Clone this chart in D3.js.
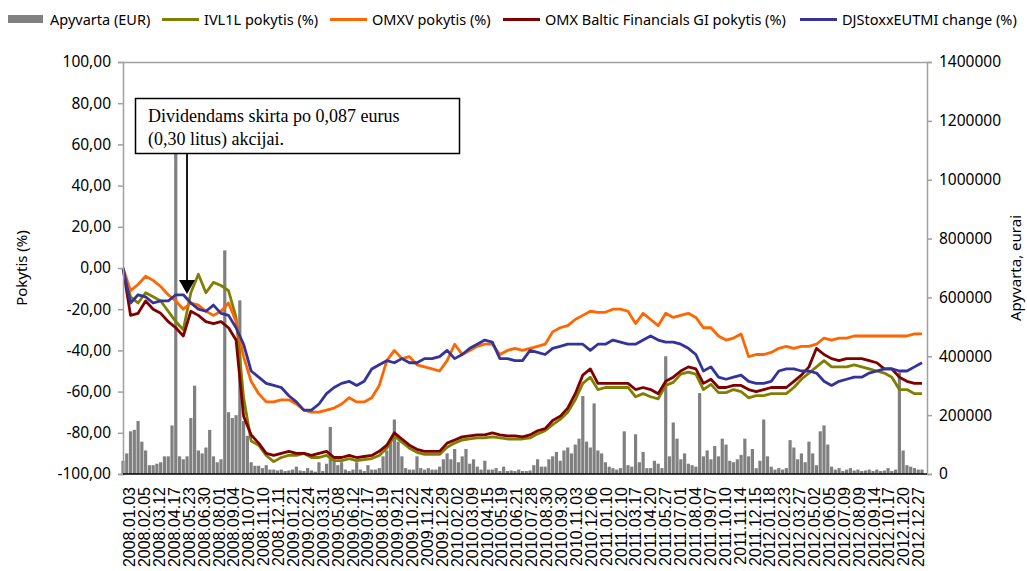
<!DOCTYPE html>
<html>
<head>
<meta charset="utf-8">
<script src="https://cdn.jsdelivr.net/npm/d3@7"></script>
<style>
  body { margin: 0; background: #fff; }
  text { fill: #000; }
</style>
</head>
<body>
<div id="chart"></div>
<script>
// chart values
var xLabels = [
  "2008.01.03","2008.02.05","2008.03.12","2008.04.17","2008.05.23","2008.06.30","2008.08.01","2008.09.04",
  "2008.10.07","2008.11.10","2008.12.11","2009.01.21","2009.02.24","2009.03.31","2009.05.08","2009.06.12",
  "2009.07.17","2009.08.19","2009.09.21","2009.10.22","2009.11.24","2009.12.29","2010.02.02","2010.03.09",
  "2010.04.15","2010.05.19","2010.06.21","2010.07.28","2010.08.30","2010.09.30","2010.11.03","2010.12.06",
  "2011.01.10","2011.02.10","2011.03.17","2011.04.20","2011.05.27","2011.07.01","2011.08.04","2011.09.07",
  "2011.10.10","2011.11.14","2011.12.15","2012.01.18","2012.02.23","2012.03.27","2012.05.02","2012.06.05",
  "2012.07.09","2012.08.09","2012.09.14","2012.10.17","2012.11.20","2012.12.27"
];

var leftTicks = [-100, -80, -60, -40, -20, 0, 20, 40, 60, 80, 100];
var rightTicks = [0, 200000, 400000, 600000, 800000, 1000000, 1200000, 1400000];

// daily turnover, thousands EUR (sampled)
var turnoverK = [
  45, 70, 145, 150, 180, 110, 80, 30, 30, 35, 40, 60, 60, 165, 1200, 60, 50, 60, 190, 300,
  80, 70, 90, 150, 60, 40, 50, 760, 210, 190, 200, 590, 180, 130, 40, 28, 28, 20, 30, 15,
  15, 12, 15, 10, 12, 15, 25, 12, 10, 20, 12, 8, 40, 10, 35, 160, 50, 30, 40, 15,
  10, 15, 40, 15, 10, 30, 15, 15, 20, 60, 80, 110, 185, 110, 60, 20, 15, 15, 60, 20,
  15, 20, 15, 15, 25, 50, 70, 50, 85, 40, 60, 85, 35, 50, 25, 15, 45, 15, 15, 20,
  10, 25, 10, 12, 10, 15, 10, 10, 12, 30, 50, 25, 25, 50, 60, 75, 45, 80, 90, 70,
  100, 120, 265, 110, 90, 240, 80, 70, 40, 25, 20, 15, 20, 145, 30, 25, 135, 40, 75, 20,
  20, 45, 35, 20, 400, 60, 175, 120, 50, 70, 35, 30, 25, 275, 60, 80, 50, 95, 60, 120,
  100, 45, 40, 50, 65, 120, 60, 85, 20, 45, 185, 60, 25, 15, 20, 15, 20, 115, 90, 50,
  70, 40, 110, 70, 30, 145, 165, 100, 25, 15, 20, 10, 15, 20, 12, 15, 10, 12, 15, 10,
  15, 10, 12, 20, 10, 15, 345, 80, 30, 25, 20, 15, 15
];

var ivl1l = [
  0, -14, -17, -12, -14, -16, -21, -26, -30, -12, -3, -12, -7, -8.5, -11, -24, -63, -84, -86, -91,
  -94, -92, -91, -91, -90, -92, -92, -91, -93.5, -93.5, -92.5, -93.5, -93, -92.5, -91, -87.5, -81.5, -84.5, -87.5, -89.5,
  -90.5, -90.5, -90.5, -87, -85, -83.5, -83, -82.5, -82.5, -82, -82.5, -83, -83, -83, -82.5, -80.5, -79, -76, -73.5, -70,
  -64, -56, -53, -59, -58, -58, -58, -58, -62.5, -61, -62.5, -63.5, -57, -55.5, -51.5, -50.5, -51.5, -59, -56.5, -60.5,
  -60.5, -59, -60, -63, -62, -62, -61, -61, -61, -58, -54, -51, -48, -45, -48, -48, -48, -47, -48, -49,
  -50, -51, -53, -59, -59, -61, -61
];

var omxv = [
  0, -11, -8, -4, -6, -9, -13, -16, -20, -17, -18, -21, -23, -21, -17, -26, -43, -55, -61, -65,
  -65, -64, -64, -66, -69, -70, -70, -69, -68, -66, -63, -65, -65, -63, -57, -45, -40, -44, -43, -47,
  -48, -49, -50, -45, -37, -42, -40, -38, -37, -37, -42, -40, -39, -40, -39, -38, -37, -31, -29, -28,
  -25, -23, -21, -21.5, -21.5, -20, -20, -21, -27, -22, -25, -28, -22, -24, -23, -22, -24, -29, -29, -33,
  -35, -34, -32, -43, -42, -42, -41, -39, -38, -39, -38, -38, -37, -34, -35, -34, -34, -33, -33, -33,
  -33, -33, -33, -33, -33, -32, -32
];

var omxBalticFin = [
  0, -23, -22, -16, -20, -22, -26, -29, -33, -21, -23, -26, -27, -26, -29, -35, -72, -81, -85, -90,
  -91, -90, -89, -90, -90, -91, -90, -89, -92, -92, -91, -92, -91.5, -91, -89, -86, -80, -83, -86, -88,
  -89, -89, -89, -85, -83.5, -82, -81.5, -81, -81, -80, -81, -81.5, -81.5, -82, -81, -79, -78, -74, -72, -68,
  -61, -52, -49, -56, -56, -56, -56, -56, -59, -58, -59, -61, -55, -53, -50, -48, -49, -56, -54, -58,
  -58, -57, -57, -59, -60, -59, -58, -58, -58, -55, -52, -48, -39, -42, -44, -45, -44, -44, -44, -45,
  -46, -49, -49, -53, -55, -56, -56
];

var djStoxx = [
  0, -17, -13, -14, -17, -16, -16, -13, -13, -17, -20, -21, -18, -22, -23, -29, -37, -50, -53, -56,
  -57, -58, -62, -65, -69, -69, -66, -61, -58, -56, -55, -57, -55, -49, -47, -45, -46, -44, -46, -46,
  -44, -44, -43, -40, -44, -42, -39, -37, -35, -36, -44, -44, -45, -45, -40, -41, -42, -39, -38, -37,
  -37, -37, -40, -37, -37, -35, -36, -37, -37, -35, -33, -35, -36, -36, -37, -39, -42, -50, -48, -53,
  -54, -53, -52, -55, -56, -56, -55, -50, -49, -49, -50, -50, -51, -55, -57, -55, -54, -53, -53, -51,
  -50, -49, -49, -50, -50, -48, -46
];

var seriesNames = ["IVL1L pokytis (%)", "OMXV pokytis (%)", "OMX Baltic Financials GI pokytis (%)", "DJStoxxEUTMI change (%)"];
var seriesColors = ["#808000", "#ff6600", "#800000", "#333399"];
var seriesData = [ivl1l, omxv, omxBalticFin, djStoxx];

// layout
var svgWidth = 1027;
var svgHeight = 571;
var plot = { left: 123, right: 927, top: 62, bottom: 474 };
var dataRight = 922;

var svg = d3.select("#chart")
  .append("svg")
  .attr("width", svgWidth)
  .attr("height", svgHeight)
  .style("font-family", "'Noto Sans', sans-serif");

var locale = d3.formatLocale({ decimal: ",", thousands: "", grouping: [3], currency: ["", ""], minus: "-" });
var fmtPct = locale.format(".2f");

// scales
var yLeft = d3.scaleLinear().domain([-100, 100]).range([plot.bottom, plot.top]);
var yRight = d3.scaleLinear().domain([0, 1400000]).range([plot.bottom, plot.top]);
var xLine = d3.scaleLinear().domain([0, ivl1l.length - 1]).range([plot.left, dataRight]);
var xBar = d3.scaleLinear().domain([0, turnoverK.length - 1]).range([plot.left, dataRight]);
var xLab = d3.scalePoint().domain(xLabels).range([129, 918]);

// frame (grey top line)
svg.append("line")
  .attr("x1", plot.left).attr("x2", plot.right)
  .attr("y1", plot.top + 0.5).attr("y2", plot.top + 0.5)
  .attr("stroke", "#a0a0a0").attr("stroke-width", 1.5);

// turnover bars
var barW = (xBar(1) - xBar(0)) * 0.85;
svg.append("g").selectAll("rect")
  .data(turnoverK)
  .enter()
  .append("rect")
  .attr("x", (d, i) => xBar(i) - barW / 2)
  .attr("y", d => yRight(d * 1000))
  .attr("width", barW)
  .attr("height", d => plot.bottom - yRight(d * 1000))
  .attr("fill", "#808080");

// lines
var line = d3.line()
  .x((d, i) => xLine(i))
  .y(d => yLeft(d));

seriesData.forEach(function(s, i) {
  svg.append("path")
    .datum(s)
    .attr("d", line)
    .attr("fill", "none")
    .attr("stroke", seriesColors[i])
    .attr("stroke-width", 2.8)
    .attr("stroke-linejoin", "round");
});

// left axis
var leftAxis = d3.axisLeft(yLeft).tickValues(leftTicks).tickSize(5).tickPadding(7).tickFormat(fmtPct);
var gL = svg.append("g")
  .attr("transform", `translate(${plot.left}, 0)`)
  .call(leftAxis);
gL.select(".domain").attr("stroke", "#a0a0a0").attr("stroke-width", 1.5);
gL.selectAll(".tick line").attr("stroke", "#a0a0a0").attr("stroke-width", 1.5);
gL.selectAll("text").attr("font-size", 15.5).attr("font-family", "'Noto Sans', sans-serif").attr("fill", "#000");

// right axis
var rightAxis = d3.axisRight(yRight).tickValues(rightTicks).tickSize(5).tickPadding(7).tickFormat(d3.format("d"));
var gR = svg.append("g")
  .attr("transform", `translate(${plot.right}, 0)`)
  .call(rightAxis);
gR.select(".domain").attr("stroke", "#a0a0a0").attr("stroke-width", 1.5);
gR.selectAll(".tick line").attr("stroke", "#a0a0a0").attr("stroke-width", 1.5);
gR.selectAll("text").attr("font-size", 15.5).attr("font-family", "'Noto Sans', sans-serif").attr("fill", "#000");

// bottom axis
svg.append("line")
  .attr("x1", plot.left).attr("x2", plot.right)
  .attr("y1", plot.bottom).attr("y2", plot.bottom)
  .attr("stroke", "#000").attr("stroke-width", 1.5);

var bottomAxis = d3.axisBottom(xLab).tickSize(0);
var gB = svg.append("g")
  .attr("transform", `translate(0, ${plot.bottom})`)
  .call(bottomAxis);
gB.select(".domain").remove();
gB.selectAll("text")
  .attr("font-size", 16)
  .attr("font-family", "'Liberation Sans', Arial, sans-serif")
  .attr("fill", "#000")
  .attr("text-anchor", "end")
  .attr("transform", "rotate(-90)")
  .attr("x", -13)
  .attr("y", 0)
  .attr("dy", "0.36em");

// axis titles
svg.append("text")
  .attr("transform", `translate(27, ${(plot.top + plot.bottom) / 2}) rotate(-90)`)
  .attr("text-anchor", "middle")
  .attr("font-size", 15)
  .text("Pokytis (%)");

svg.append("text")
  .attr("transform", `translate(1021, ${(plot.top + plot.bottom) / 2}) rotate(-90)`)
  .attr("text-anchor", "middle")
  .attr("font-size", 15)
  .text("Apyvarta, eurai");

// legend
var legend = svg.append("g").attr("font-size", 14.5);
legend.append("rect").attr("x", 8).attr("y", 15).attr("width", 35).attr("height", 8).attr("fill", "#808080");
legend.append("text").attr("x", 50).attr("y", 24.5).text("Apyvarta (EUR)");
var legendX = [162, 330, 503, 800];
seriesNames.forEach(function(n, i) {
  legend.append("line")
    .attr("x1", legendX[i]).attr("x2", legendX[i] + 37)
    .attr("y1", 19.5).attr("y2", 19.5)
    .attr("stroke", seriesColors[i]).attr("stroke-width", 2.8);
  legend.append("text").attr("x", legendX[i] + 42).attr("y", 24.5).text(n);
});

// dividend annotation
var note = svg.append("g");
note.append("rect")
  .attr("x", 135.5).attr("y", 98.5).attr("width", 324).attr("height", 55)
  .attr("fill", "#fff").attr("stroke", "#000").attr("stroke-width", 1.5);
note.append("text")
  .attr("x", 148).attr("y", 122)
  .attr("font-family", "'Liberation Serif', 'Times New Roman', serif")
  .attr("font-size", 18)
  .text("Dividendams skirta po 0,087 eurus");
note.append("text")
  .attr("x", 148).attr("y", 145)
  .attr("font-family", "'Liberation Serif', 'Times New Roman', serif")
  .attr("font-size", 18)
  .text("(0,30 litus) akcijai.");
note.append("line")
  .attr("x1", 187).attr("x2", 187).attr("y1", 154).attr("y2", 281)
  .attr("stroke", "#000").attr("stroke-width", 1.8);
note.append("path")
  .attr("d", "M179,280 L195,280 L187,294 Z")
  .attr("fill", "#000");
</script>
</body>
</html>
